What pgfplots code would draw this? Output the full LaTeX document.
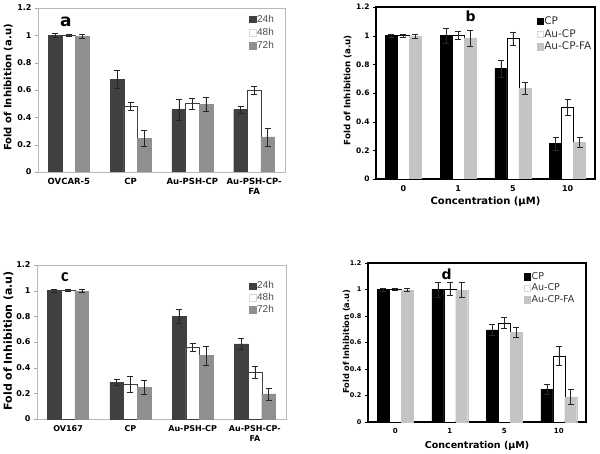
\documentclass[border=0pt]{standalone}
\usepackage{pgfplots}
\pgfplotsset{compat=1.18}
\usepackage{fontspec}
\setmainfont{DejaVu Sans}
\newfontfamily\lib{Liberation Sans}
\newfontfamily\carl{Carlito}
\definecolor{dk}{HTML}{404040}
\definecolor{md}{HTML}{8F8F8F}
\definecolor{lg}{HTML}{C4C4C4}
\pgfplotsset{
  panel/.style={
    scale only axis, ybar, ymin=0, ymax=1.2,
    ytick={0,0.2,0.4,0.6,0.8,1,1.2},
    xtick={0,1,2,3}, xmin=-0.5, xmax=3.5,
    /pgf/number format/assume math mode=true,
    xtick style={draw=none}, ytick pos=left,
    tick align=outside, major tick length=3pt,
    bar width=0.22,
    legend cell align=left,
    legend image code/.code={\draw[##1,line width=0.3pt] (0pt,-3.3pt) rectangle (6.5pt,3.2pt);},
    error bars/y dir=both, error bars/y explicit,
    error bars/error bar style={line width=0.5pt,color=black!85},
    error bars/error mark options={rotate=90,mark size=3pt,line width=0.5pt,color=black!85},
  },
  s1/.style={bar shift=-0.22},
  s2/.style={bar shift=0},
  s3/.style={bar shift=0.22},
}
\begin{document}
\begin{tikzpicture}
\path[use as bounding box] (0,0) rectangle (600pt,453pt);
% panel a
\begin{axis}[panel, at={(38pt,281pt)}, anchor=south west, width=247pt, height=164pt,
  axis line style={gray!55,line width=0.8pt}, ytick style={gray!70},
  xticklabels={OVCAR-5,CP,Au-PSH-CP,{Au-PSH-CP-\\FA}},
  xticklabel style={align=center, font=\bfseries\fontsize{8.5}{10}\selectfont},
  yticklabel style={font=\bfseries\fontsize{8}{9}\selectfont},
  ylabel={Fold of Inhibition (a.u)},
  ylabel style={at={(axis description cs:-0.121,0.515)}, anchor=center, font=\bfseries\fontsize{10}{11}\selectfont},
  legend style={at={(rel axis cs:0.855,0.965)}, anchor=north west, draw=none, fill=none, inner sep=0pt,
    font=\lib\fontsize{10}{10}\selectfont\color{black!70}, row sep=2.5pt, nodes={inner sep=1pt}},
]
\addplot[s1, fill=dk, draw=dk] coordinates {(0,1.0) +- (0,0.012) (1,0.678) +- (0,0.063) (2,0.457) +- (0,0.075) (3,0.457) +- (0,0.025)};
\addplot[s2, fill=white, draw=dk, legend image post style={draw=gray!30}] coordinates {(0,1.0) +- (0,0.01) (1,0.48) +- (0,0.03) (2,0.50) +- (0,0.042) (3,0.60) +- (0,0.03)};
\addplot[s3, fill=md, draw=md] coordinates {(0,0.995) +- (0,0.015) (1,0.247) +- (0,0.055) (2,0.496) +- (0,0.052) (3,0.257) +- (0,0.065)};
\legend{24h,48h,72h}
\node[font=\bfseries\fontsize{17}{17}\selectfont] at (rel axis cs:0.113,0.915) {a};
\end{axis}
% panel b
\begin{axis}[panel, at={(376pt,274pt)}, anchor=south west, width=219pt, height=172pt,
  axis line style={black,line width=1.2pt}, ytick style={black},
  xticklabels={0,1,5,10},
  xticklabel style={font=\bfseries\fontsize{8}{9}\selectfont},
  yticklabel style={font=\bfseries\fontsize{7.5}{9}\selectfont},
  ylabel={Fold of Inhibition (a.u)},
  ylabel style={at={(axis description cs:-0.13,0.517)}, anchor=center, font=\bfseries\fontsize{8.7}{10}\selectfont},
  xlabel={Concentration (µM)},
  xlabel style={at={(axis description cs:0.5,-0.134)}, anchor=center, font=\bfseries\fontsize{10}{11}\selectfont},
  legend style={at={(rel axis cs:0.732,0.952)}, anchor=north west, draw=none, fill=none, inner sep=0pt,
    font=\fontsize{10.5}{10.5}\selectfont\color{black!80}, row sep=1.5pt, nodes={inner sep=1pt}},
]
\addplot[s1, fill=black, draw=black] coordinates {(0,1.0) +- (0,0.01) (1,1.0) +- (0,0.05) (2,0.77) +- (0,0.06) (3,0.248) +- (0,0.046)};
\addplot[s2, fill=white, draw=black, legend image post style={draw=gray!30}] coordinates {(0,1.0) +- (0,0.01) (1,1.0) +- (0,0.028) (2,0.98) +- (0,0.047) (3,0.50) +- (0,0.058)};
\addplot[s3, fill=lg, draw=lg] coordinates {(0,0.995) +- (0,0.012) (1,0.984) +- (0,0.055) (2,0.634) +- (0,0.042) (3,0.258) +- (0,0.036)};
\legend{CP,Au-CP,Au-CP-FA}
\node[font=\bfseries\fontsize{14}{14}\selectfont] at (rel axis cs:0.432,0.944) {b};
\end{axis}
% panel c
\begin{axis}[panel, at={(37pt,34pt)}, anchor=south west, width=249pt, height=154pt,
  axis line style={gray!55,line width=0.8pt}, ytick style={gray!70},
  xticklabels={OV167,CP,Au-PSH-CP,{Au-PSH-CP-\\FA}},
  xticklabel style={align=center, font=\bfseries\fontsize{8}{10}\selectfont},
  yticklabel style={font=\bfseries\fontsize{8}{9}\selectfont},
  ylabel={Fold of Inhibition (a.u)},
  ylabel style={at={(axis description cs:-0.115,0.508)}, anchor=center, font=\bfseries\fontsize{11}{12}\selectfont},
  legend style={at={(rel axis cs:0.852,0.9)}, anchor=north west, draw=none, fill=none, inner sep=0pt,
    font=\lib\fontsize{10}{10}\selectfont\color{black!70}, row sep=1pt, nodes={inner sep=1pt}},
]
\addplot[s1, fill=dk, draw=dk] coordinates {(0,1.0) +- (0,0.012) (1,0.287) +- (0,0.025) (2,0.80) +- (0,0.055) (3,0.585) +- (0,0.045)};
\addplot[s2, fill=white, draw=dk, legend image post style={draw=gray!30}] coordinates {(0,1.0) +- (0,0.008) (1,0.272) +- (0,0.06) (2,0.56) +- (0,0.03) (3,0.363) +- (0,0.047)};
\addplot[s3, fill=md, draw=md] coordinates {(0,0.997) +- (0,0.012) (1,0.246) +- (0,0.057) (2,0.495) +- (0,0.075) (3,0.195) +- (0,0.047)};
\legend{24h,48h,72h}
\node[font=\carl\bfseries\fontsize{18}{18}\selectfont] at (rel axis cs:0.112,0.924) {c};
\end{axis}
% panel d
\begin{axis}[panel, at={(368pt,31pt)}, anchor=south west, width=218pt, height=159pt,
  axis line style={black,line width=1.6pt}, ytick style={black},
  xticklabels={0,1,5,10},
  xticklabel style={font=\bfseries\fontsize{7}{9}\selectfont},
  yticklabel style={font=\bfseries\fontsize{6.5}{8}\selectfont},
  ylabel={Fold of Inhibition (a.u)},
  ylabel style={at={(axis description cs:-0.098,0.505)}, anchor=center, font=\bfseries\fontsize{8.2}{10}\selectfont},
  xlabel={Concentration (µM)},
  xlabel style={at={(axis description cs:0.5,-0.151)}, anchor=center, font=\bfseries\fontsize{9.5}{11}\selectfont},
  legend style={at={(rel axis cs:0.714,0.95)}, anchor=north west, draw=none, fill=none, inner sep=0pt,
    font=\fontsize{9.5}{9.5}\selectfont\color{black!80}, row sep=1pt, nodes={inner sep=1pt}},
]
\addplot[s1, fill=black, draw=black] coordinates {(0,1.0) +- (0,0.012) (1,1.0) +- (0,0.055) (2,0.696) +- (0,0.045) (3,0.248) +- (0,0.036)};
\addplot[s2, fill=white, draw=black, legend image post style={draw=gray!30}] coordinates {(0,1.0) +- (0,0.008) (1,1.003) +- (0,0.05) (2,0.749) +- (0,0.045) (3,0.50) +- (0,0.07)};
\addplot[s3, fill=lg, draw=lg] coordinates {(0,0.997) +- (0,0.012) (1,0.995) +- (0,0.057) (2,0.676) +- (0,0.04) (3,0.19) +- (0,0.055)};
\legend{CP,Au-CP,Au-CP-FA}
\node[font=\bfseries\fontsize{14}{14}\selectfont] at (rel axis cs:0.361,0.931) {d};
\end{axis}
\end{tikzpicture}
\end{document}
